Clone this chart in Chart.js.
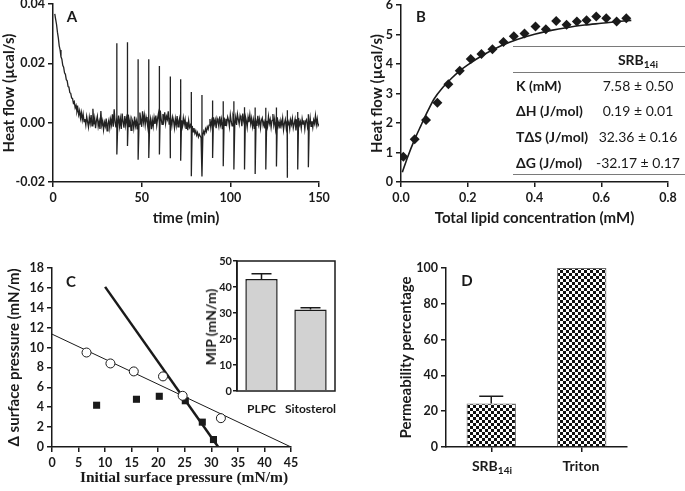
<!DOCTYPE html>
<html>
<head>
<meta charset="utf-8">
<script src="https://cdn.jsdelivr.net/npm/chart.js@4.4.0/dist/chart.umd.min.js"></script>
<style>
  html, body { margin: 0; padding: 0; background: #fff; }
  #fig { position: relative; width: 685px; height: 491px; overflow: hidden; font-family: Lato, 'DejaVu Sans', sans-serif; color: #1a1a1a; }
  #fig canvas { position: absolute; }
  .lbl { position: absolute; transform: translate(-50%, -50%); white-space: nowrap; line-height: 1; font-weight: bold; }
  .left { transform: translate(0, -50%); }
  .rot { transform: translate(-50%, -50%) rotate(-90deg); }
  .letter { font-size: 15px; }
  .serif { font-family: 'Liberation Serif', 'DejaVu Serif', serif; font-weight: bold; font-size: 15.5px; color: #1a1a1a; }
  .val { font-weight: normal; font-size: 14px; }
  .rule { position: absolute; height: 1px; background: #7a7a7a; }
  sub { font-size: 0.72em; vertical-align: -0.3em; line-height: 0; }
</style>
</head>
<body>
<div id="fig">
  <canvas id="chartA" width="340" height="240" style="left:0;top:0"></canvas>
  <canvas id="chartB" width="345" height="240" style="left:340px;top:0"></canvas>
  <canvas id="chartC" width="345" height="251" style="left:0;top:240px"></canvas>
  <canvas id="chartInset" width="150" height="172" style="left:195px;top:248px"></canvas>
  <canvas id="chartD" width="305" height="251" style="left:380px;top:240px"></canvas>

  <!-- panel letters -->
  <div class="lbl letter" style="left:72px;top:16px">A</div>
  <div class="lbl letter" style="left:421px;top:16px">B</div>
  <div class="lbl letter" style="left:71px;top:281px">C</div>
  <div class="lbl letter" style="left:467px;top:280px">D</div>

  <!-- thermodynamic table of panel B -->
  <div class="rule" style="left:513px;top:46px;width:172px"></div>
  <div class="rule" style="left:513px;top:72px;width:172px"></div>
  <div class="rule" style="left:513px;top:174px;width:172px"></div>
  <div class="lbl" style="left:638px;top:60px;font-size:14px">SRB<sub>14i</sub></div>
  <div class="lbl left" style="left:516px;top:86px;font-size:14px">K (mM)</div>
  <div class="lbl left" style="left:516px;top:111px;font-size:14px">ΔH (J/mol)</div>
  <div class="lbl left" style="left:516px;top:137px;font-size:14px">TΔS (J/mol)</div>
  <div class="lbl left" style="left:516px;top:163px;font-size:14px">ΔG (J/mol)</div>
  <div class="lbl val" style="left:638px;top:86px">7.58 ± 0.50</div>
  <div class="lbl val" style="left:638px;top:111px">0.19 ± 0.01</div>
  <div class="lbl val" style="left:638px;top:137px">32.36 ± 0.16</div>
  <div class="lbl val" style="left:638px;top:163px">-32.17 ± 0.17</div>

  <!-- axis texts drawn outside the canvases -->
  <div class="lbl serif" style="left:184px;top:477px">Initial surface pressure (mN/m)</div>
  <div class="lbl rot" style="left:211px;top:327px;font-size:14px">MIP (mN/m)</div>
  <div class="lbl" style="left:492px;top:466px;font-size:14px">SRB<sub>14i</sub></div>
  <div class="lbl" style="left:581px;top:466px;font-size:14px">Triton</div>
</div>

<script>
// --- A: raw ITC trace, one sample every 0.5 min starting at 1 min ---
const flowStart = 1;
const flowStep = 0.5;
const flowValues = [
  .0367, .0348, .0331, .0305, .0286, .0259, .0245, .0222, .0214, .0193,
  .0187, .0168, .0163, .0145, .0141, .0122, .0119, .0101, .0099, .0083,
  .0082, .0066, .0071, .0050, .0058, .0037, .0049, .0026, .0040, .0015,
  .0034, .0009, .0029, .0004,
  .0012, -.0008, .0021, .0003, -.0015, .0018, -.0002, .0026, -.0011, .0047,
  -.0006, .0015, -.0019, .0008, .0022, -.0013, .0004, -.0021, .0039, -.0009,
  .0006, -.0024, .0001, -.0012, .0014, -.0028, -.0003, .0009, -.0018, .0011,
  -.0007, .0028, -.0014, .0045, .0002, -.0016, .0019, -.0008, .0024, -.0012,
  .0013, -.0021, .0031, .0004, -.0017, .0022, -.0009, .0015, -.0004, .0027,
  -.0015, .0008, -.0026, .0012, .0003, -.0019, .0021, -.0011, .0006, -.0023,
  .0016, -.0005, .0034, .0011, -.0014, .0038, .0002, .0025, -.0008, .0019,
  .0004, -.0017, .0028, -.0006, .0013, -.0022, .0009, -.0013, .0017, -.0004,
  .0024, -.0009, .0015, .0032, -.0003, .0041, .0012, -.0006, .0029, .0008,
  .0035, -.0002, .0021, .0011, .0038, -.0007, .0016, .0027, -.0011, .0019,
  .0006, -.0018, .0013, -.0009, .0022, -.0014, .0005, .0017, -.0021, .0008,
  -.0012, .0016, -.0006, .0011, -.0019, .0003, -.0025, .0007, -.0016, -.0008,
  -.0022, -.0011, -.0031, -.0018, -.0036, -.0027, -.0042, -.0033, -.0048, -.0039,
  -.0045, -.0051, -.0036, -.0043, -.0029, -.0038, -.0021, -.0030, -.0014, -.0022,
  -.0008, .0012, -.0017, .0005, -.0011, .0018, -.0004, .0009, -.0019, .0014,
  .0003, -.0013, .0021, -.0007, .0011, -.0022, .0006, .0017, -.0009, .0013,
  -.0003, .0019, .0008, -.0014, .0026, .0004, -.0011, .0022, .0009, -.0006,
  .0018, -.0008, .0029, .0011, -.0005, .0024, .0013, -.0012, .0031, .0006,
  -.0009, .0021, .0007, -.0016, .0019, .0002, .0027, -.0004, .0015, -.0013,
  .0009, -.0021, .0017, .0004, -.0011, .0023, -.0006, .0012, -.0018, .0008,
  .0016, -.0009, .0003, -.0019, .0014, .0006, -.0012, .0021, -.0003, .0011,
  -.0016, .0008, .0029, -.0007, .0013, -.0021, .0004, .0018, -.0011, .0002,
  -.0019, .0007, -.0009, .0015, -.0024, -.0002, .0011, -.0017, .0006, -.0013,
  .0004, -.0021, .0009, -.0006, .0014, -.0018, -.0003, .0012, -.0026, .0001,
  -.0011, .0016, -.0007, .0004, -.0019, .0013, -.0005, .0008, -.0022, .0006,
  .0011, -.0014, .0003, -.0008, .0017, -.0012, .0005, -.0016, .0009, -.0003,
  .0024, -.0007, .0013, -.0010, -.0004
];
// injection peaks
const spikeTimes = [36, 42, 48, 54, 60, 66, 72, 78, 84, 90, 96, 102, 108, 114, 120, 126, 132, 138, 144];
const spikeHigh = [.0268, .0271, .0214, .0214, .0191, .0156, .0146, .0103, .0093, .0075, .0072, .0072, .0052, .0051, .0050, .0051, .0042, .0036, .0028];
const spikeLow = [-.0107, -.0079, -.0125, -.0119, -.0107, -.0120, -.0128, -.0181, -.0181, -.0119, -.0147, -.0158, -.0158, -.0173, -.0158, -.0148, -.0186, -.0158, -.0150];

// --- B: integrated heats and fitted curve ---
const lipidConc = [0.007, 0.041, 0.075, 0.109, 0.142, 0.176, 0.209, 0.241, 0.274, 0.307, 0.338, 0.370, 0.403, 0.434, 0.465, 0.496, 0.527, 0.556, 0.585, 0.615, 0.646, 0.675];
const heatValues = [0.86, 1.45, 2.10, 2.69, 3.31, 3.77, 4.17, 4.34, 4.50, 4.75, 4.94, 5.03, 5.27, 5.18, 5.46, 5.33, 5.44, 5.48, 5.61, 5.55, 5.44, 5.55];
const fitConc = [0.004, 0.02, 0.04, 0.06, 0.08, 0.10, 0.125, 0.15, 0.175, 0.20, 0.25, 0.30, 0.35, 0.40, 0.45, 0.50, 0.55, 0.60, 0.65, 0.69];
const fitHeat = [0.33, 0.85, 1.42, 1.92, 2.40, 2.83, 3.20, 3.50, 3.76, 3.97, 4.33, 4.62, 4.84, 5.01, 5.14, 5.24, 5.32, 5.38, 5.44, 5.48];

// --- C: monolayer insertion ---
const circlePressure = [6.5, 11.0, 15.4, 20.9, 24.6, 31.8];
const circleDelta = [9.5, 8.4, 7.6, 7.1, 5.15, 2.9];
const squarePressure = [8.4, 15.9, 20.2, 25.1, 28.3, 30.4];
const squareDelta = [4.2, 4.8, 5.1, 4.65, 2.5, 0.75];
const thinFitX = [0, 45];
const thinFitY = [11.35, 0];
const thickFitX = [10, 31.3];
const thickFitY = [16.1, 0];

// --- C inset: maximum insertion pressure ---
const mipLabels = ['PLPC', 'Sitosterol'];
const mipValues = [43.1, 31.3];
const mipErrors = [2.0, 0.7];

// --- D: permeability ---
const permLabels = ['SRB14i', 'Triton'];
const permValues = [24.3, 100];
const permErrors = [4.1, 0];

const INK = '#1a1a1a';
Chart.defaults.font.family = "Lato, 'DejaVu Sans', sans-serif";
Chart.defaults.color = INK;
Chart.defaults.animation = false;
Chart.defaults.plugins.legend.display = false;
Chart.defaults.plugins.tooltip.enabled = false;

// keep the plot areas where the figure has them
const fixWidth = (w) => (s) => { s.width = w; s.paddingTop = 0; s.paddingBottom = 0; };
const fixHeight = (h) => (s) => { s.height = h; s.paddingLeft = 0; s.paddingRight = 0; };

function axis(min, max, step, fmt, size) {
    return {
        type: 'linear', min: min, max: max,
        ticks: { stepSize: step, callback: fmt, color: INK, padding: 3, font: { size: size || 12.5, weight: 'bold' } },
        grid: { drawOnChartArea: false, color: INK, tickLength: 5, lineWidth: 1.5 },
        border: { color: INK, width: 1.5 }
    };
}

function axisTitle(text, size) {
    return { display: true, text: text, color: INK, padding: 0, font: { size: size || 15, weight: 'bold' } };
}

const errorBars = {
    id: 'errorBars',
    afterDatasetsDraw(chart, args, opts) {
        const meta = chart.getDatasetMeta(0);
        const ys = chart.scales.y;
        const ctx = chart.ctx;
        ctx.save();
        ctx.strokeStyle = INK;
        ctx.lineWidth = 1.5;
        meta.data.forEach((bar, i) => {
            const err = opts.errors[i];
            if (!err) return;
            const top = ys.getPixelForValue(chart.data.datasets[0].data[i] + err);
            ctx.beginPath();
            ctx.moveTo(bar.x, bar.y);
            ctx.lineTo(bar.x, top);
            ctx.moveTo(bar.x - opts.cap, top);
            ctx.lineTo(bar.x + opts.cap, top);
            ctx.stroke();
        });
        ctx.restore();
    }
};

const frameBox = {
    id: 'frameBox',
    afterDraw(chart) {
        const a = chart.chartArea;
        const ctx = chart.ctx;
        ctx.save();
        ctx.strokeStyle = INK;
        ctx.lineWidth = 1.5;
        ctx.strokeRect(a.left, a.top, a.right - a.left, a.bottom - a.top);
        ctx.restore();
    }
};

function drawTrace() {
    const points = flowValues.map((y, i) => ({ x: flowStart + i * flowStep, y: y }));
    spikeTimes.forEach((t, i) => {
        points.push({ x: t, y: spikeHigh[i] }, { x: t, y: spikeLow[i] });
    });
    points.sort((a, b) => a.x - b.x);

    const x = axis(0, 150, 50, (v) => v);
    x.title = axisTitle('time (min)');
    x.afterFit = fixHeight(45);
    const y = axis(-0.02, 0.04, 0.02, (v) => v.toFixed(2));
    y.title = axisTitle('Heat flow (µcal/s)');
    y.afterFit = fixWidth(53);

    new Chart(document.getElementById('chartA'), {
        type: 'line',
        data: { datasets: [{ data: points, borderColor: '#222', borderWidth: 1.3, pointRadius: 0, tension: 0 }] },
        options: {
            responsive: false,
            layout: { padding: { left: 0, top: 4, right: 21, bottom: 13 } },
            scales: { x: x, y: y }
        }
    });
}

function drawBinding() {
    const x = axis(0, 0.8, 0.2, (v) => v.toFixed(1));
    x.title = axisTitle('Total lipid concentration (mM)');
    x.afterFit = fixHeight(45);
    const y = axis(0, 6, 1, (v) => v);
    y.title = axisTitle('Heat flow (µcal/s)');
    y.afterFit = fixWidth(33);

    new Chart(document.getElementById('chartB'), {
        type: 'scatter',
        data: {
            datasets: [{
                data: lipidConc.map((c, i) => ({ x: c, y: heatValues[i] })),
                pointStyle: 'rectRot', pointRadius: 5, backgroundColor: INK, borderColor: INK, borderWidth: 0
            }, {
                data: fitConc.map((c, i) => ({ x: c, y: fitHeat[i] })),
                showLine: true, borderColor: INK, borderWidth: 1.6, pointRadius: 0, cubicInterpolationMode: 'monotone'
            }]
        },
        options: {
            responsive: false,
            layout: { padding: { left: 28, top: 4, right: 17, bottom: 13 } },
            scales: { x: x, y: y }
        }
    });
}

function drawMonolayer() {
    const x = axis(0, 45, 5, (v) => v);
    x.afterFit = fixHeight(44);
    const y = axis(0, 18, 2, (v) => v);
    y.title = axisTitle('Δ surface pressure (mN/m)');
    y.afterFit = fixWidth(47);

    new Chart(document.getElementById('chartC'), {
        type: 'scatter',
        data: {
            datasets: [{
                data: circlePressure.map((p, i) => ({ x: p, y: circleDelta[i] })),
                pointStyle: 'circle', pointRadius: 4.5, backgroundColor: '#fff', borderColor: INK, borderWidth: 1
            }, {
                data: squarePressure.map((p, i) => ({ x: p, y: squareDelta[i] })),
                pointStyle: 'rect', pointRadius: 5, backgroundColor: INK, borderColor: INK, borderWidth: 0
            }, {
                data: thinFitX.map((p, i) => ({ x: p, y: thinFitY[i] })),
                showLine: true, borderColor: INK, borderWidth: 1, pointRadius: 0
            }, {
                data: thickFitX.map((p, i) => ({ x: p, y: thickFitY[i] })),
                showLine: true, borderColor: INK, borderWidth: 2.5, pointRadius: 0
            }]
        },
        options: {
            responsive: false,
            layout: { padding: { left: 5, top: 28, right: 54, bottom: 0 } },
            scales: { x: x, y: y }
        }
    });
}

function drawInset() {
    const y = axis(0, 50, 10, (v) => v, 11);
    y.grid.tickLength = 4;
    y.ticks.padding = 1;
    y.afterFit = fixWidth(30);

    new Chart(document.getElementById('chartInset'), {
        type: 'bar',
        data: {
            labels: mipLabels,
            datasets: [{
                data: mipValues, backgroundColor: '#d2d2d2', borderColor: INK, borderWidth: 1.5,
                categoryPercentage: 1, barPercentage: 0.66
            }]
        },
        options: {
            responsive: false,
            layout: { padding: { left: 12, top: 13, right: 10, bottom: 0 } },
            plugins: { errorBars: { errors: mipErrors, cap: 10 } },
            scales: {
                x: {
                    grid: { display: false }, border: { display: false },
                    ticks: {
                        color: INK, padding: 3, autoSkip: false, maxRotation: 0, minRotation: 0,
                        font: { size: 12, weight: 'bold' }
                    },
                    afterFit: fixHeight(29)
                },
                y: y
            }
        },
        plugins: [errorBars, frameBox]
    });
}

function checkerPattern(ctx, cell) {
    const tile = document.createElement('canvas');
    tile.width = tile.height = cell * 2;
    const g = tile.getContext('2d');
    g.fillStyle = '#fff';
    g.fillRect(0, 0, cell * 2, cell * 2);
    g.fillStyle = '#111';
    g.fillRect(0, 0, cell, cell);
    g.fillRect(cell, cell, cell, cell);
    return ctx.createPattern(tile, 'repeat');
}

function drawPermeability() {
    const canvas = document.getElementById('chartD');
    const y = axis(0, 100, 20, (v) => v);
    y.title = axisTitle('Permeability percentage');
    y.afterFit = fixWidth(49);

    new Chart(canvas, {
        type: 'bar',
        data: {
            labels: permLabels,
            datasets: [{
                data: permValues, backgroundColor: checkerPattern(canvas.getContext('2d'), 3),
                borderColor: '#666', borderWidth: 1, categoryPercentage: 1, barPercentage: 0.545
            }]
        },
        options: {
            responsive: false,
            layout: { padding: { left: 17, top: 28, right: 58, bottom: 0 } },
            plugins: { errorBars: { errors: permErrors, cap: 12 } },
            scales: {
                x: {
                    ticks: { display: false },
                    grid: { drawOnChartArea: false, offset: false, color: INK, tickLength: 5, lineWidth: 1.5 },
                    border: { color: INK, width: 1.5 },
                    afterFit: fixHeight(44)
                },
                y: y
            }
        },
        plugins: [errorBars]
    });
}

drawTrace();
drawBinding();
drawMonolayer();
drawInset();
drawPermeability();
</script>
</body>
</html>
